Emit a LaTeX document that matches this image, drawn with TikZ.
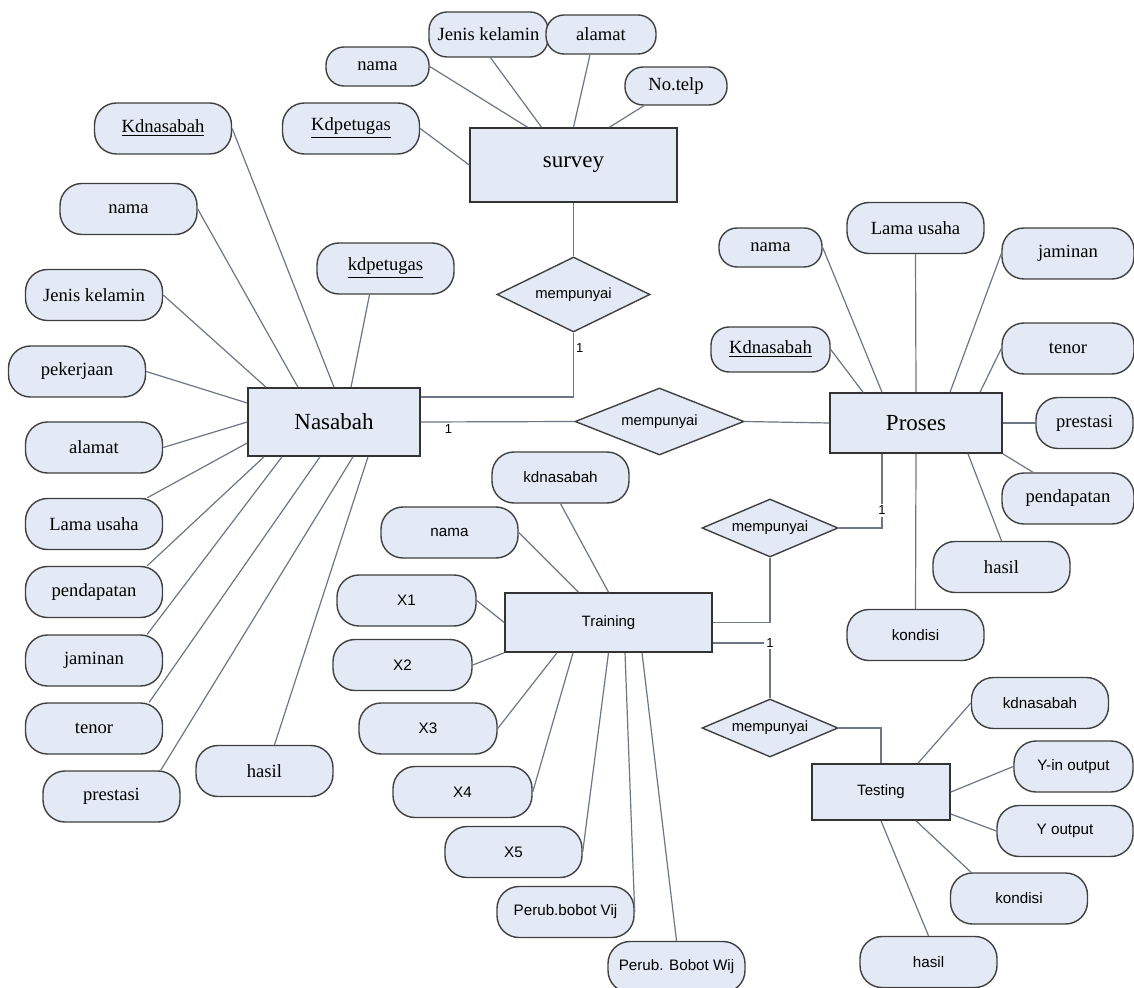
\documentclass[tikz,border=0pt]{standalone}
\usepackage{fontspec}
\setmainfont{Liberation Serif}
\setsansfont{Liberation Sans}
\usepackage{xcolor}
\usepackage{tikz}
\usetikzlibrary{shapes.geometric}

\definecolor{boxfill}{RGB}{228,234,245}
\definecolor{linkgray}{RGB}{110,118,132}

\begin{document}
\begin{tikzpicture}[
  x=.5pt,y=-.5pt,
  entity/.style={draw=black!80,fill=boxfill,line width=.8pt,inner sep=2pt,
    font=\fontsize{11.5}{13}\selectfont},
  entitysf/.style={entity,font=\sffamily\fontsize{7.5}{9}\selectfont},
  attrib/.style={draw=black!75,fill=boxfill,line width=.7pt,rounded corners=11pt,
    minimum width=68.5pt,minimum height=25.5pt,inner sep=1pt,
    font=\fontsize{9.3}{11}\selectfont},
  attribsm/.style={attrib,rounded corners=9pt},
  attribsf/.style={attrib,font=\sffamily\fontsize{7.6}{9}\selectfont},
  relation/.style={diamond,draw=black!75,fill=boxfill,line width=.7pt,
    aspect=2.3,inner sep=0pt,font=\sffamily\fontsize{7.4}{9}\selectfont},
  link/.style={draw=linkgray,line width=.6pt},
  card/.style={font=\sffamily\fontsize{6.5}{8}\selectfont,inner sep=1pt}
]
\useasboundingbox[fill=white] (0,0) rectangle (1134,988);

\node[entity,minimum width=86pt,minimum height=34pt] (nas) at (334,422) {Nasabah};
\node[attrib] (nkd) at (163,128.5) {\underline{Kdnasabah}};
\node[attrib] (nnama) at (128.5,209) {nama};
\node[attrib] (njk) at (94,295) {Jenis kelamin};
\node[attrib] (npek) at (77,371.5) {pekerjaan};
\node[attrib] (nalm) at (94,447.5) {alamat};
\node[attrib] (nlama) at (94,524) {Lama usaha};
\node[attrib] (npend) at (94,592) {pendapatan};
\node[attrib] (njam) at (94,660.5) {jaminan};
\node[attrib] (nten) at (94,728.5) {tenor};
\node[attrib] (npres) at (111.5,796.5) {prestasi};
\node[attrib] (nhas) at (264.5,771) {hasil};
\node[attrib] (npet) at (385.5,268.5) {\underline{kdpetugas}};

\node[entity,minimum width=103.5pt,minimum height=37pt] (sur) at (573.5,165) {survey};
\node[attrib] (spet) at (351,128.5) {\underline{Kdpetugas}};
\node[attribsm,minimum width=51.5pt,minimum height=19.5pt] (snama) at (377.5,66.5) {nama};
\node[attribsm,minimum width=59.5pt,minimum height=22.5pt] (sjk) at (488.5,34.5) {Jenis kelamin};
\node[attribsm,minimum width=55pt,minimum height=19.5pt] (salm) at (601,34.5) {alamat};
\node[attribsm,minimum width=51pt,minimum height=19pt] (stelp) at (676,86) {No.telp};

\node[entity,minimum width=86pt,minimum height=30pt] (pro) at (916,423) {Proses};
\node[attribsm,minimum width=51.5pt,minimum height=19.5pt] (pnama) at (770.5,247.5) {nama};
\node[attribsm,minimum width=59.5pt,minimum height=22.5pt] (pkd) at (770.5,349.5) {\underline{Kdnasabah}};
\node[attrib] (plama) at (915.5,228) {Lama usaha};
\node[attrib,minimum width=66pt] (pjam) at (1068,253.5) {jaminan};
\node[attrib,minimum width=66pt] (pten) at (1068,348.5) {tenor};
\node[attrib,minimum width=48.5pt] (ppres) at (1084.5,423) {prestasi};
\node[attrib,minimum width=66pt] (ppend) at (1068,498.5) {pendapatan};
\node[attrib] (phas) at (1001.5,567) {hasil};
\node[attribsf] (pkond) at (915.5,635) {kondisi};

\node[relation,minimum width=76.5pt,minimum height=37.5pt] (r1) at (573.5,294.5) {mempunyai};
\node[relation,minimum width=84.5pt,minimum height=33.5pt] (r2) at (659.5,421.5) {mempunyai};
\node[relation,minimum width=68pt,minimum height=29pt] (r3) at (770,528) {mempunyai};
\node[relation,minimum width=68pt,minimum height=29pt] (r4) at (770,728) {mempunyai};

\node[entitysf,minimum width=103.5pt,minimum height=29.5pt] (tr) at (608.5,622.5) {Training};
\node[attribsf] (tkd) at (560.5,477.5) {kdnasabah};
\node[attribsf] (tnama) at (449.5,532.5) {nama};
\node[attribsf,minimum width=69.5pt] (tx1) at (406.5,600.5) {X1};
\node[attribsf,minimum width=69.5pt] (tx2) at (402.5,665) {X2};
\node[attribsf,minimum width=69pt] (tx3) at (428,728.5) {X3};
\node[attribsf,minimum width=69.5pt] (tx4) at (462.5,792) {X4};
\node[attribsf] (tx5) at (513.5,852) {X5};
\node[attribsf] (tvij) at (565.5,912) {Perub.bobot Vij};
\node[attribsf] (twij) at (676.5,967) {Perub. Bobot Wij};

\node[entitysf,minimum width=69pt,minimum height=28pt] (te) at (881,792) {Testing};
\node[attribsf] (ekd) at (1040,703) {kdnasabah};
\node[attribsf,minimum width=59.5pt] (eyin) at (1073.5,766.5) {Y-in output};
\node[attribsf,minimum width=68pt] (eyout) at (1065,831) {Y output};
\node[attribsf] (ekond) at (1019,898.5) {kondisi};
\node[attribsf] (ehas) at (928.5,962) {hasil};

\draw[link] (nkd.east) -- (nas.north);
\draw[link] (nnama.east) -- ([xshift=-18pt]nas.north);
\draw[link] (njk.east) -- ([xshift=-34pt]nas.north);
\draw[link] (npek.east) -- ([yshift=9.5pt]nas.west);
\draw[link] (nalm.east) -- (nas.west);
\draw[link] ([xshift=-8pt]nlama.north east) -- ([yshift=-10.5pt]nas.west);
\draw[link] ([xshift=-8pt]npend.north east) -- ([xshift=-35pt]nas.south);
\draw[link] ([xshift=-8pt]njam.north east) -- ([xshift=-26pt]nas.south);
\draw[link] ([xshift=-7pt]nten.north east) -- ([xshift=-7pt]nas.south);
\draw[link] ([xshift=-10pt]npres.north east) -- ([xshift=9.5pt]nas.south);
\draw[link] ([xshift=5pt]nhas.north) -- ([xshift=17pt]nas.south);
\draw[link] ([xshift=-8pt]npet.south) -- ([xshift=8.5pt]nas.north);

\draw[link] (spet.east) -- (sur.west);
\draw[link] (snama.east) -- ([xshift=-23pt]sur.north);
\draw[link] ([xshift=1pt]sjk.south) -- ([xshift=-16pt]sur.north);
\draw[link] ([xshift=-5.5pt]salm.south) -- (sur.north);
\draw[link] ([xshift=-16pt]stelp.south) -- ([xshift=18pt]sur.north);

\draw[link] (sur) -- (r1);
\draw[link] (r1.south) |- node[card,pos=.12,right]{1} ([yshift=12.5pt]nas.east);
\draw[link] (nas.east) -- node[card,pos=.18,below]{1} (r2.west);
\draw[link] (r2.east) -- (pro.west);
\draw[link] ([xshift=-17pt]pro.south) |- node[card,pos=.38,fill=white]{1} (r3.east);
\draw[link] (tr.east) -| (r3.south);
\draw[link] ([yshift=-10.25pt]tr.east) -| node[card,pos=.5,fill=white]{1} (r4.north);
\draw[link] (r4.east) -| (te.north);

\draw[link] (pnama.east) -- ([xshift=-17pt]pro.north);
\draw[link] (pkd.east) -- ([xshift=-26.5pt]pro.north);
\draw[link] (plama.south) -- (pro.north);
\draw[link] (pjam.west) -- ([xshift=17pt]pro.north);
\draw[link] (pten.west) -- ([xshift=32pt]pro.north);
\draw[link] (ppres.west) -- (pro.east);
\draw[link] ([xshift=-17.5pt]ppend.north) -- (pro.south east);
\draw[link] (phas.north) -- ([xshift=26pt]pro.south);
\draw[link] (pkond.north) -- (pro.south);

\draw[link] (tkd.south) -- (tr.north);
\draw[link] (tnama.east) -- ([xshift=-15pt]tr.north);
\draw[link] (tx1.east) -- (tr.west);
\draw[link] (tx2.east) -- (tr.south west);
\draw[link] (tx3.east) -- ([xshift=-25.75pt]tr.south);
\draw[link] (tx4.east) -- ([xshift=-17.75pt]tr.south);
\draw[link] (tx5.east) -- (tr.south);
\draw[link] (tvij.east) -- ([xshift=8.25pt]tr.south);
\draw[link] (twij.north) -- ([xshift=16.75pt]tr.south);

\draw[link] (ekd.west) -- ([xshift=18.5pt]te.north);
\draw[link] (eyin.west) -- (te.east);
\draw[link] (eyout.west) -- ([yshift=-11pt]te.east);
\draw[link] ([xshift=-24pt]ekond.north) -- ([xshift=17.5pt]te.south);
\draw[link] (ehas.north) -- (te.south);
\end{tikzpicture}
\end{document}
